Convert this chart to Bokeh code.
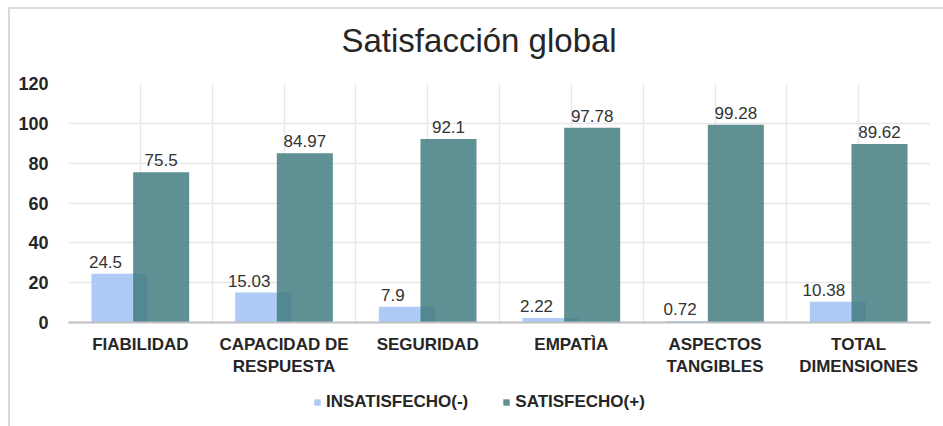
from bokeh.plotting import figure
from bokeh.layouts import column
from bokeh.models import ColumnDataSource, FactorRange, Range1d, FixedTicker, Legend, LegendItem
from bokeh.transform import dodge
from bokeh.core.properties import value
from bokeh.embed import file_html
from bokeh.resources import INLINE

# ---- data ----
categories = ["FIABILIDAD", "CAPACIDAD DE\nRESPUESTA", "SEGURIDAD", "EMPATÌA",
              "ASPECTOS\nTANGIBLES", "TOTAL\nDIMENSIONES"]
insatisfecho = [24.5, 15.03, 7.9, 2.22, 0.72, 10.38]
satisfecho = [75.5, 84.97, 92.1, 97.78, 99.28, 89.62]
y_ticks = [0, 20, 40, 60, 80, 100, 120]
series_names = ["INSATISFECHO(-)", "SATISFECHO(+)"]
title_text = "Satisfacción global"

FONT = "Liberation Sans"
INS_COLOR = "#aecbf5"
SAT_COLOR = "#437c80"
SAT_ALPHA = 0.85
TEXT_COLOR = "#262626"
W = 933

source = ColumnDataSource(dict(
    cat=categories,
    ins=insatisfecho,
    sat=satisfecho,
    ins_lbl=[str(v) for v in insatisfecho],
    sat_lbl=[str(v) for v in satisfecho],
))

# ---- title strip ----
tt = figure(
    width=W, height=54,
    x_range=FactorRange(*categories, range_padding=0), y_range=Range1d(0, 1),
    x_axis_location=None, y_axis_location=None,
    output_backend="svg", toolbar_location=None,
    min_border_left=0, min_border_right=0, min_border_top=49, min_border_bottom=0,
)
tt.grid.visible = False
tt.outline_line_color = None
tt.title.text = title_text
tt.title.text_font = FONT
tt.title.text_font_size = "33px"
tt.title.text_font_style = "normal"
tt.title.text_color = TEXT_COLOR
tt.title.align = "left"
tt.title.offset = 273
tt.title.standoff = 0

# ---- main chart ----
p = figure(
    x_range=FactorRange(*categories, range_padding=0),
    y_range=Range1d(y_ticks[0], y_ticks[-1]),
    width=W, height=322,
    output_backend="svg", toolbar_location=None,
    min_border_left=58, min_border_right=13, min_border_top=20, min_border_bottom=63,
)
p.outline_line_color = None

DX = 0.145
BW = 0.39
r_ins = p.vbar(x=dodge("cat", -DX, range=p.x_range), top="ins", width=BW, source=source,
               fill_color=INS_COLOR, line_color=None)
r_sat = p.vbar(x=dodge("cat", DX, range=p.x_range), top="sat", width=BW, source=source,
               fill_color=SAT_COLOR, fill_alpha=SAT_ALPHA, line_color=None)

p.text(x=dodge("cat", -DX, range=p.x_range), y="ins", text="ins_lbl", source=source,
       x_offset=-14, y_offset=-12, text_align="center", text_baseline="alphabetic",
       text_font=value(FONT), text_font_size="17px", text_color="#333333")
p.text(x=dodge("cat", DX, range=p.x_range), y="sat", text="sat_lbl", source=source,
       y_offset=-12, text_align="center", text_baseline="alphabetic",
       text_font=value(FONT), text_font_size="17px", text_color="#333333")

# grids
p.xgrid.ticker = FixedTicker(ticks=[k / 2 for k in range(2 * len(categories) + 1)])
p.ygrid.ticker = FixedTicker(ticks=y_ticks)
for g in (p.xgrid, p.ygrid):
    g.grid_line_color = "#e8e8e8"
    g.grid_line_width = 1.5

# axes
p.yaxis.ticker = FixedTicker(ticks=y_ticks)
p.yaxis.axis_line_color = None
p.yaxis.major_tick_line_color = None
p.yaxis.minor_tick_line_color = None
p.yaxis.major_label_standoff = 14
p.yaxis.major_label_text_font = FONT
p.yaxis.major_label_text_font_size = "18px"
p.yaxis.major_label_text_font_style = "bold"
p.yaxis.major_label_text_color = TEXT_COLOR

p.xaxis.axis_line_color = "#bfbfbf"
p.xaxis.axis_line_width = 2
p.xaxis.major_tick_line_color = None
p.xaxis.minor_tick_line_color = None
p.xaxis.major_label_standoff = 6
p.xaxis.major_label_text_font = FONT
p.xaxis.major_label_text_font_size = "17px"
p.xaxis.major_label_text_font_style = "bold"
p.xaxis.major_label_text_color = TEXT_COLOR

# ---- legend strip (separate small figure so the legend is not clipped) ----
lg = figure(
    width=W, height=41,
    x_range=FactorRange(*categories, range_padding=0), y_range=Range1d(-2, -1),
    x_axis_location=None, y_axis_location=None,
    output_backend="svg", toolbar_location=None,
    min_border_left=0, min_border_right=0, min_border_top=0, min_border_bottom=0,
)
lg.grid.visible = False
lg.outline_line_color = None
# legend proxies: same series, kept out of view (y range below zero) and hidden
l_ins = lg.vbar(x="cat", top="ins", width=BW, source=source, fill_color=INS_COLOR, line_color=None)
l_sat = lg.vbar(x="cat", top="sat", width=BW, source=source, fill_color=SAT_COLOR,
                fill_alpha=SAT_ALPHA, line_color=None)
l_ins.visible = False
l_sat.visible = False

legend = Legend(
    items=[LegendItem(label=series_names[0], renderers=[l_ins]),
           LegendItem(label=series_names[1], renderers=[l_sat])],
    orientation="horizontal", location=(245, 14),
    glyph_width=8, glyph_height=8, label_standoff=5, spacing=34,
    label_text_font=FONT, label_text_font_size="17px", label_text_font_style="bold",
    label_text_color=TEXT_COLOR,
    border_line_color=None, background_fill_alpha=0,
    inactive_fill_alpha=0,
    padding=4, margin=0,
)
lg.add_layout(legend, "center")

layout = column(tt, p, lg, spacing=0)
layout.styles = {"margin-left": "8px", "margin-top": "7px",
                 "border-top": "2px solid #d9d9d9", "border-left": "2px solid #d9d9d9"}

open("out.html", "w").write(file_html(layout, INLINE))
